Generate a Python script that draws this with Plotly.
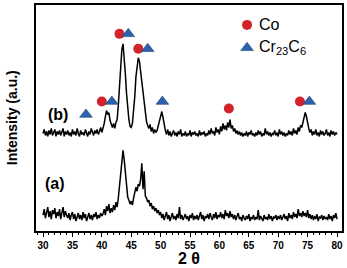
import numpy as np
import plotly.graph_objects as go

# 2-theta sampling grid (0.2 deg step, 30..80)
two_theta = np.round(np.arange(30.0, 80.0001, 0.2), 1)

# Pattern (a) intensities (arbitrary units, as displayed)
intensity_a = [
    16,22,13,19,24,14,20,12,21,17,23,13,19,15,22,12,18,24,14,20,16,
    13,18,11,16,19,12,17,10,15,18,12,16,11,19,13,17,10,15,18,12,16,11,17,14,19,12,16,13,18,15,
    17,22,16,25,20,27,18,23,19,26,21,29,24,33,
    45,64,76,81,72,56,46,34,31,
    27,30,26,33,
    38,44,40,47,45,52,68,42,60,35,
    33,29,31,25,28,22,25,20,23,18,21,16,19,
    13,17,11,15,19,12,16,10,14,18,
    12,15,11,17,13,24,12,16,11,14,
    17,12,15,10,16,13,18,11,15,12,
    16,11,14,19,12,16,10,15,13,17,
    12,18,14,11,17,13,19,12,16,14,
    19,13,17,12,21,15,18,13,20,14,
    17,12,16,11,15,18,12,14,10,16,
    13,11,15,12,17,10,14,12,16,11,
    14,12,21,11,15,13,10,16,12,14,
    11,17,12,15,10,14,13,16,11,15,
    12,16,11,14,17,12,15,10,18,13,
    16,12,19,14,17,13,22,15,18,14,
    20,15,18,14,21,13,17,12,16,11,
    15,12,17,10,14,13,16,11,15,12,
    14,11,17,12,15,10,16,13,18,12,
]

# Pattern (b) intensities (arbitrary units, as displayed, includes vertical offset)
intensity_b = [
    98,102,96,100,95,101,97,103,96,99,102,95,100,97,101,96,99,103,95,100,97,
    101,96,99,95,102,97,100,96,103,98,95,101,97,99,96,102,98,95,100,97,103,99,96,101,98,102,97,100,104,99,
    103,108,115,121,117,119,111,107,104,108,103,109,112,126,
    148,170,182,188,176,158,138,120,112,
    105,104,108,120,
    135,155,168,174,170,160,148,136,125,116,
    110,106,103,107,100,104,98,102,99,101,106,112,117,
    120,114,106,101,97,102,96,100,95,99,
    101,96,99,95,100,97,102,95,98,96,
    100,95,98,96,101,95,99,97,100,96,
    98,95,101,96,99,97,100,95,98,96,
    101,97,103,98,100,96,104,99,102,97,
    105,100,108,102,106,101,109,104,112,103,
    106,100,103,98,101,97,100,96,99,95,
    98,96,100,95,99,97,101,96,98,95,
    99,96,101,97,100,95,98,96,103,97,
    100,96,99,95,98,97,101,96,99,95,
    102,97,100,96,99,95,98,96,101,97,
    100,96,103,98,101,97,104,100,106,104,
    110,116,119,115,108,103,99,102,96,100,
    97,102,96,99,95,101,97,100,96,98,
    102,96,99,95,101,97,100,96,99,97,
]

# Phase markers
co_x = [40.0, 43.0, 46.2, 61.6, 73.7]
co_y = [130, 198, 183, 123, 130]
cr_x = [37.3, 41.7, 44.5, 47.8, 50.3, 75.3]
cr_y = [117, 130, 198, 183, 130, 130]

# Legend
legend_labels = ["Co", "Cr<sub>23</sub>C<sub>6</sub>"]
legend_x = 64.7
legend_y = [207, 184]

RED = "#d2232a"
BLUE = "#2c62ad"
FONT = "Arial, Liberation Sans, sans-serif"

fig = go.Figure()
fig.add_trace(go.Scatter(x=two_theta, y=intensity_a, mode="lines",
                         line=dict(color="black", width=1.5)))
fig.add_trace(go.Scatter(x=two_theta, y=intensity_b, mode="lines",
                         line=dict(color="black", width=1.5)))
fig.add_trace(go.Scatter(x=co_x, y=co_y, mode="markers",
                         marker=dict(symbol="circle", size=10, color=RED)))
fig.add_trace(go.Scatter(x=cr_x, y=cr_y, mode="markers",
                         marker=dict(symbol="triangle-up", size=11, color=BLUE,
                                     line=dict(color="#1d3f73", width=0.6))))
fig.add_trace(go.Scatter(x=[legend_x], y=[legend_y[0]], mode="markers",
                         marker=dict(symbol="circle", size=10, color=RED)))
fig.add_trace(go.Scatter(x=[legend_x], y=[legend_y[1]], mode="markers",
                         marker=dict(symbol="triangle-up", size=11, color=BLUE,
                                     line=dict(color="#1d3f73", width=0.6))))

for lab, ly in zip(legend_labels, legend_y):
    fig.add_annotation(x=legend_x + 1.7, y=ly, text=lab, showarrow=False,
                       xanchor="left", yanchor="middle",
                       font=dict(family=FONT, size=16, color="black"))

fig.add_annotation(x=32.6, y=117, text="<b>(b)</b>", showarrow=False,
                   font=dict(family=FONT, size=16, color="black"))
fig.add_annotation(x=32.1, y=48, text="<b>(a)</b>", showarrow=False,
                   font=dict(family=FONT, size=16, color="black"))

fig.add_annotation(xref="paper", yref="paper", x=-0.078, y=0.5,
                   text="<b>Intensity (a.u.)</b>", textangle=-90, showarrow=False,
                   xanchor="center", yanchor="middle",
                   font=dict(family=FONT, size=14, color="black"))
fig.add_annotation(xref="paper", yref="paper", x=0.5, y=-0.12,
                   text="<b>2 θ</b>", showarrow=False,
                   xanchor="center", yanchor="middle",
                   font=dict(family=FONT, size=16, color="black"))

fig.update_layout(
    width=347, height=268,
    margin=dict(l=36, r=3, t=4, b=37),
    paper_bgcolor="white", plot_bgcolor="white",
    showlegend=False,
    xaxis=dict(range=[28.8, 80.85], tickmode="array",
               tickvals=list(range(30, 81, 5)),
               ticktext=[str(v) for v in range(30, 81, 5)],
               ticks="outside", ticklen=4, tickwidth=1.2, tickcolor="black",
               minor=dict(dtick=1, tick0=30, ticks="outside", ticklen=2,
                          tickwidth=1, tickcolor="black"),
               showline=True, linecolor="black", linewidth=2, mirror=True,
               showgrid=False, zeroline=False,
               tickfont=dict(family=FONT, size=10, color="black", weight="bold")),
    yaxis=dict(range=[0, 227], showticklabels=False, ticks="",
               showline=True, linecolor="black", linewidth=2, mirror=True,
               showgrid=False, zeroline=False),
)

fig.write_html("out.html")
